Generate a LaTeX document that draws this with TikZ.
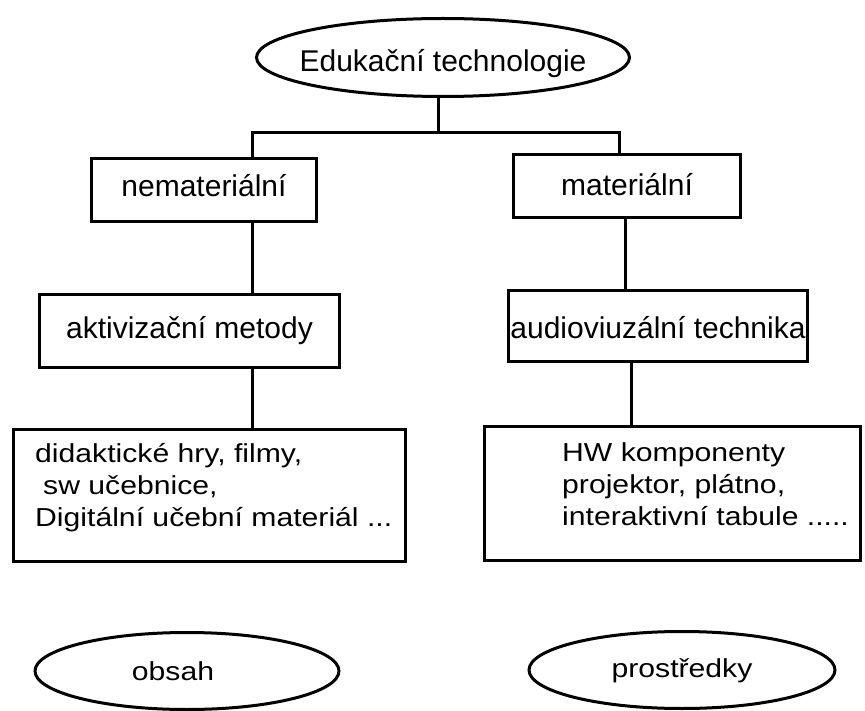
\documentclass[tikz,border=0pt]{standalone}
\usepackage{fontspec}
\setmainfont{Liberation Sans}
\newfontfamily\widefont[FakeStretch=1.16]{Liberation Sans}
\usetikzlibrary{shapes.geometric}

\tikzset{
  box/.style={draw, line width=3pt, rectangle, inner sep=0pt,
    font=\fontsize{30}{36}\selectfont, text height=16pt, text depth=0pt},
  oval/.style={draw, line width=3pt, ellipse, inner sep=0pt,
    text height=16pt, text depth=0pt},
  list/.style={align=left, inner sep=0pt, anchor=north west,
    font=\widefont\fontsize{26}{32}\selectfont},
  link/.style={line width=3pt}
}

\begin{document}
\begin{tikzpicture}[x=1pt, y=-1pt]
    \useasboundingbox (0,0) rectangle (865,711);
    % top
    \node[oval, minimum width=373pt, minimum height=78pt, text height=29pt,
      font=\fontsize{30}{36}\selectfont] (edu) at (443,57.5) {\makebox[0pt]{Edukační technologie}};
    \coordinate (bar) at (438,133);
    \coordinate (lx) at (252,0);
    \coordinate (rx) at (619,0);
    % left column
    \node[box, minimum width=225pt, minimum height=63pt, text height=14pt] (nemat) at (204,190) {nemateriální};
    \node[box, minimum width=300pt, minimum height=73pt] (akt) at (189.5,331) {aktivizační metody};
    \node[box, minimum width=392pt, minimum height=132pt] (did) at (209.5,495.5) {};
    \node[list] (didtxt) at (35,443) {didaktické hry, filmy,\\\hspace*{8pt}sw učebnice,\\Digitální učební materiál ...};
    % right column
    \node[box, minimum width=227pt, minimum height=63pt, text height=20pt] (mat) at (627,186) {materiální};
    \node[box, minimum width=299pt, minimum height=71pt, text height=26pt] (audio) at (658,326) {audioviuzální technika};
    \node[box, minimum width=376pt, minimum height=134pt] (hw) at (672.5,493.5) {};
    \node[list] (hwtxt) at (562,442) {HW komponenty\\projektor, plátno,\\interaktivní tabule .....};
    % bottom
    \node[oval, minimum width=304pt, minimum height=77pt, text height=18pt,
      font=\widefont\fontsize{26}{32}\selectfont] (obsah) at (187,671) {\makebox[0pt]{\hspace*{-28pt}obsah}};
    \node[oval, minimum width=306pt, minimum height=77pt, text height=14pt,
      font=\widefont\fontsize{26}{32}\selectfont] (prostr) at (682,670) {\makebox[0pt]{prostředky}};
    % connectors
    \draw[link] (edu.south -| bar) -- (bar);
    \draw[link] (nemat.north -| lx) |- (bar) -| (mat.north -| rx);
    \draw[link] (nemat.south -| lx) -- (akt.north -| lx);
    \draw[link] (akt.south -| lx) -- (did.north -| lx);
    \draw[link] (mat.south -| 625,0) -- (audio.north -| 625,0);
    \draw[link] (audio.south -| 631,0) -- (hw.north -| 631,0);
\end{tikzpicture}
\end{document}
